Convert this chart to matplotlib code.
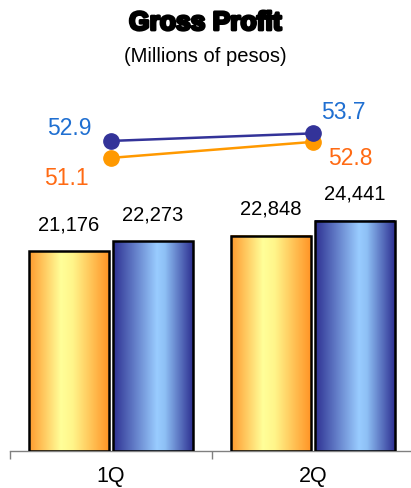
import numpy as np
import matplotlib
matplotlib.use("Agg")
import matplotlib.pyplot as plt
import matplotlib.patheffects as pe
from matplotlib.colors import LinearSegmentedColormap

# data
quarters = ["1Q", "2Q"]
profit_a = [21176, 22848]   # orange bars
profit_b = [22273, 24441]   # blue bars
margin_a = [51.1, 52.8]     # orange line
margin_b = [52.9, 53.7]     # blue line

plt.rcParams['font.family'] = ['Liberation Sans', 'DejaVu Sans']

fig = plt.figure(figsize=(4.11, 4.89), dpi=100)
ax = fig.add_axes([10 / 411, 37 / 489, 404 / 411, 377 / 489])
ax2 = ax.twinx()

orange_cmap = LinearSegmentedColormap.from_list(
    "org", [(0, "#FF9A2E"), (0.4, "#FFFF99"), (0.55, "#FFF58A"), (1, "#FF9426")])
blue_cmap = LinearSegmentedColormap.from_list(
    "blu", [(0, "#2E3192"), (0.55, "#99CCFF"), (0.65, "#8EC0F5"), (1, "#2E3192")])

x = np.arange(len(quarters))
w = 0.396
off = 0.208
grad = np.linspace(0, 1, 256).reshape(1, -1)

for i in range(len(quarters)):
    for val, dx, cmap in [(profit_a[i], -off, orange_cmap), (profit_b[i], off, blue_cmap)]:
        x0 = x[i] + dx - w / 2
        ax.imshow(grad, cmap=cmap, extent=[x0, x0 + w, 0, val], aspect='auto', zorder=2)
        ax.bar(x[i] + dx, val, width=w, facecolor='none', edgecolor='black',
               linewidth=1.8, zorder=3)
        ax.text(x[i] + dx, val + 1900, f"{val:,}", ha='center', va='bottom',
                fontsize=14.5, color='black')

ax.set_xlim(-0.5, 1.5)
ax.set_ylim(0, 40000)
ax.set_yticks([])
for s in ['top', 'left', 'right']:
    ax.spines[s].set_visible(False)
ax.spines['bottom'].set_color('#808080')
ax.spines['bottom'].set_linewidth(1)
ax.set_xticks([-0.5, 0.5, 1.5])
ax.set_xticklabels([])
ax.set_xticks(x, minor=True)
ax.set_xticklabels(quarters, minor=True, fontsize=15.5)
ax.tick_params(axis='x', which='major', length=6, color='#808080', width=1)
ax.tick_params(axis='x', which='minor', length=0, pad=10)

ax2.set_ylim(20, 60)
ax2.set_yticks([])
for s in ['top', 'left', 'right', 'bottom']:
    ax2.spines[s].set_visible(False)
ax2.plot(x, margin_a, color='#FF9900', linewidth=1.8, marker='o', markersize=11, zorder=4)
ax2.plot(x, margin_b, color='#333399', linewidth=1.8, marker='o', markersize=11, zorder=5)

offsets_a = [(-32, -14), (27, -11)]
offsets_b = [(-30, 10), (22, 16)]
for i in range(len(quarters)):
    ax2.annotate(f"{margin_a[i]}", (x[i], margin_a[i]), xytext=offsets_a[i],
                 textcoords='offset points', ha='center', va='center',
                 fontsize=16.5, color='#FF6A13')
    ax2.annotate(f"{margin_b[i]}", (x[i], margin_b[i]), xytext=offsets_b[i],
                 textcoords='offset points', ha='center', va='center',
                 fontsize=16.5, color='#1F6FD1')

fig.text(0.5, 1 - 24 / 489, "Gross Profit", ha='center', va='center',
         fontsize=19, fontweight='bold',
         path_effects=[pe.withStroke(linewidth=2, foreground='black')])
fig.text(0.5, 1 - 56 / 489, "(Millions of pesos)", ha='center', va='center',
         fontsize=14.5)

fig.savefig("out.png", dpi=100)
